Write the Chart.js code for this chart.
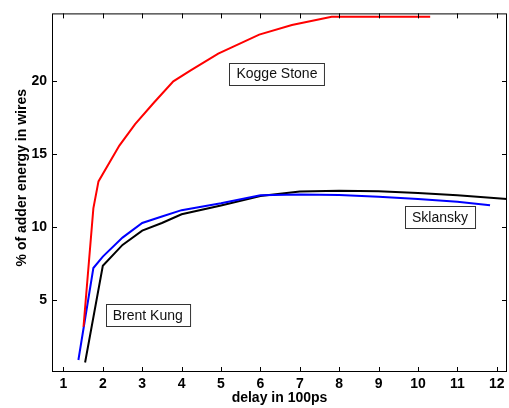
<!DOCTYPE html>
<html lang="en">
    <head>
        <meta charset="UTF-8">
        <title>Adder wire energy</title>
        <script src="https://cdn.jsdelivr.net/npm/chart.js@4/dist/chart.umd.min.js"></script>
        <style>
            html, body { margin: 0; padding: 0; background: #fff; }
            #wrap { width: 509px; height: 408px; }
        </style>
    </head>
    <body>
        <div id="wrap"><canvas id="grafica"></canvas></div>
        <script>
        // datos (delay en 100ps, % de energia)
        const ksX = [1.51, 1.76, 1.89, 2.42, 2.82, 3.30, 3.79, 4.23, 4.93, 5.97, 6.8, 7.81, 10.31];
        const ksY = [3.2, 11.3, 13.15, 15.6, 17.07, 18.55, 20.0, 20.75, 21.9, 23.2, 23.85, 24.42, 24.42];

        const skX = [1.38, 1.76, 2.0, 2.5, 3.0, 3.5, 4.0, 5.0, 6.0, 7.0, 8.0, 9.0, 10.0, 11.0, 11.83];
        const skY = [0.92, 7.22, 8.0, 9.3, 10.3, 10.75, 11.18, 11.65, 12.2, 12.25, 12.22, 12.1, 11.95, 11.75, 11.52];

        const bkX = [1.55, 2.0, 2.5, 3.0, 3.5, 4.0, 5.0, 6.0, 7.0, 8.0, 9.0, 10.0, 11.0, 12.26];
        const bkY = [0.75, 7.37, 8.8, 9.78, 10.3, 10.9, 11.5, 12.15, 12.45, 12.5, 12.48, 12.36, 12.2, 11.95];

        const xTicks = [1, 2, 3, 4, 5, 6, 7, 8, 9, 10, 11, 12];
        const yTicks = [5, 10, 15, 20];
        const yTitulo = '% of adder energy in wires';

        // etiquetas dentro de la grafica (posicion en datos, centro de la caja)
        const notas = [
            { text: "Kogge Stone", x: 6.42, y: 20.53 },
            { text: "Brent Kung", x: 3.14, y: 4.0 },
            { text: "Sklansky", x: 10.56, y: 10.7 }
        ];

        const pts = (xs, ys) => xs.map((x, i) => ({ x: x, y: ys[i] }));
        const FONT = "'Liberation Sans', Arial, Helvetica, sans-serif";

        // marcas hacia adentro y caja completa, estilo matlab
        const marcoPlugin = {
            id: 'marco',
            afterDraw(chart) {
                const ctx = chart.ctx;
                const a = chart.chartArea;
                const sx = chart.scales.x, sy = chart.scales.y;
                ctx.save();
                ctx.strokeStyle = '#000';
                ctx.lineWidth = 1;
                ctx.strokeRect(a.left + 0.5, a.top + 0.5, a.right - a.left - 1, a.bottom - a.top - 1);
                ctx.beginPath();
                xTicks.forEach(v => {
                    const px = Math.round(sx.getPixelForValue(v)) + 0.5;
                    ctx.moveTo(px, a.bottom); ctx.lineTo(px, a.bottom - 5);
                    ctx.moveTo(px, a.top); ctx.lineTo(px, a.top + 5);
                });
                yTicks.forEach(v => {
                    const py = Math.round(sy.getPixelForValue(v)) + 0.5;
                    ctx.moveTo(a.left, py); ctx.lineTo(a.left + 5, py);
                    ctx.moveTo(a.right, py); ctx.lineTo(a.right - 5, py);
                });
                ctx.stroke();

                // titulo del eje y (matlab lo deja un poco arriba del centro)
                ctx.save();
                ctx.translate(22, sy.getPixelForValue(13.4));
                ctx.rotate(-Math.PI / 2);
                ctx.font = 'bold 14px ' + FONT;
                ctx.fillStyle = '#000';
                ctx.textAlign = 'center';
                ctx.textBaseline = 'middle';
                ctx.fillText(yTitulo, 0, 0);
                ctx.restore();

                // cajas de texto
                ctx.font = '14px ' + FONT;
                ctx.textAlign = 'center';
                ctx.textBaseline = 'middle';
                notas.forEach(n => {
                    const cx = sx.getPixelForValue(n.x);
                    const cy = sy.getPixelForValue(n.y);
                    const w = ctx.measureText(n.text).width + 14;
                    const h = 22;
                    const l = Math.round(cx - w / 2) + 0.5, t = Math.round(cy - h / 2) + 0.5;
                    ctx.fillStyle = '#fff';
                    ctx.fillRect(l, t, w, h);
                    ctx.strokeStyle = '#333';
                    ctx.strokeRect(l, t, w, h);
                    ctx.fillStyle = '#111';
                    ctx.fillText(n.text, cx, cy + 1);
                });
                ctx.restore();
            }
        };

        const linea = (data, color) => ({
            data: data,
            borderColor: color,
            borderWidth: 2,
            pointRadius: 0,
            tension: 0,
            fill: false
        });

        new Chart(document.querySelector('#grafica'), {
            type: 'line',
            data: {
                datasets: [
                    linea(pts(ksX, ksY), '#ff0000'),
                    linea(pts(skX, skY), '#0000ff'),
                    linea(pts(bkX, bkY), '#000000')
                ]
            },
            options: {
                responsive: true,
                maintainAspectRatio: false,
                animation: false,
                layout: { padding: { top: 11, right: 2, left: 0, bottom: 0 } },
                plugins: { legend: { display: false }, tooltip: { enabled: false } },
                scales: {
                    x: {
                        type: 'linear',
                        min: 0.71,
                        max: 12.26,
                        afterBuildTicks: s => { s.ticks = xTicks.map(v => ({ value: v })); },
                        afterFit: s => { s.height = 36; },
                        grid: { display: false, drawTicks: false },
                        border: { display: false },
                        ticks: { color: '#000', padding: 4, font: { family: FONT, size: 14, weight: 'bold' } },
                        title: {
                            display: true,
                            text: 'delay in 100ps',
                            color: '#000',
                            padding: { top: 0, bottom: 1 },
                            font: { family: FONT, size: 14, weight: 'bold' }
                        }
                    },
                    y: {
                        min: 0.1,
                        max: 24.65,
                        afterBuildTicks: s => { s.ticks = yTicks.map(v => ({ value: v })); },
                        afterFit: s => { s.width = 52; },
                        grid: { display: false, drawTicks: false },
                        border: { display: false },
                        ticks: { color: '#000', padding: 5, font: { family: FONT, size: 14, weight: 'bold' } },
                        title: { display: false }
                    }
                }
            },
            plugins: [marcoPlugin]
        });
        </script>
    </body>
</html>
